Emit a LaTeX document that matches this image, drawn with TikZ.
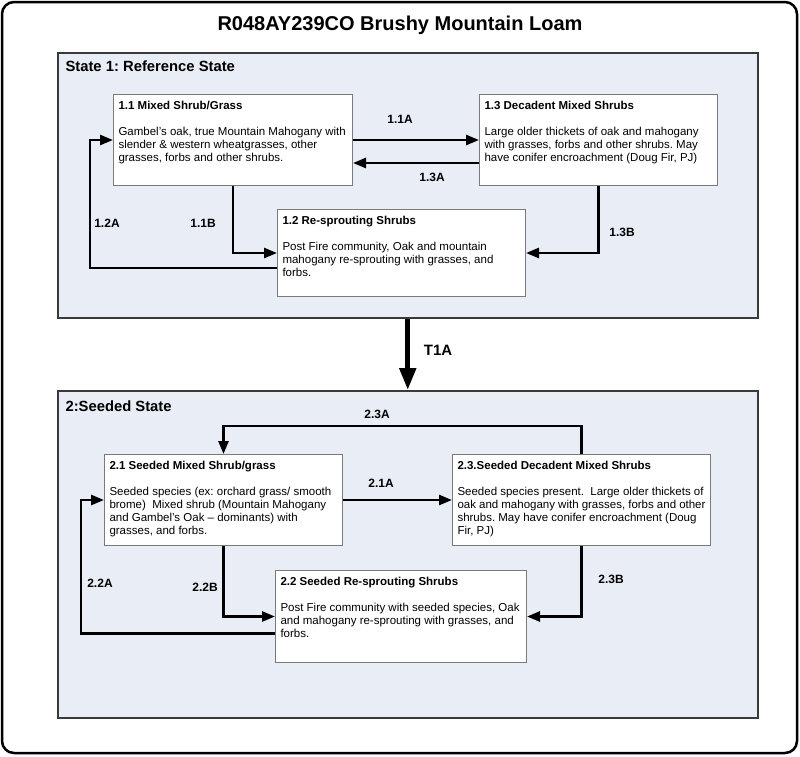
\documentclass[tikz,border=0pt]{standalone}
\usepackage{fontspec}
\setmainfont{Liberation Sans}
\usetikzlibrary{arrows.meta}
\frenchspacing

\definecolor{statefill}{HTML}{E9EDF5}
\definecolor{stateline}{HTML}{3A3A3A}
\definecolor{boxline}{HTML}{7A7A7A}

% text of a community box: width, height, title, body
\newcommand{\commtext}[4]{\parbox[c][#2][t]{#1}{\raggedright\textbf{#3}\\[13pt]#4}}

\begin{document}
\begin{tikzpicture}[
    x = 1pt, y = -1pt,
    state/.style = {
        rectangle,
        draw = stateline,
        line width = 1.5pt,
        fill = statefill,
        anchor = north west,
        inner sep = 0pt
    },
    community/.style = {
        rectangle,
        draw = boxline,
        line width = 1pt,
        fill = white,
        anchor = north west,
        inner xsep = 5pt,
        inner ysep = 7pt,
        font = \fontsize{11.5}{13}\selectfont
    },
    heading/.style = {anchor = base west, font = \fontsize{14.8}{17}\selectfont\bfseries},
    arrow/.style = {-{Triangle[length = 13pt, width = 10pt]}, line width = 2.6pt},
    transition/.style = {-{Triangle[length = 22pt, width = 16pt]}, line width = 5pt},
    tag/.style = {font = \fontsize{12}{14}\selectfont\bfseries}
]
\useasboundingbox (0,0) rectangle (800,756);

% Frame and title
\draw[line width = 2.5pt, rounded corners = 12pt] (2,2) rectangle (797,753);
\node[font = \fontsize{20}{24}\selectfont\bfseries] (title) at (400,25) {R048AY239CO Brushy Mountain Loam};

% State 1
\node[state, minimum width = 700pt, minimum height = 265pt] (s1) at (57,52) {};
\node[heading] (s1name) at (62,71) {State 1: Reference State};

\node[community] (b11) at (113,94) {\commtext{229pt}{77pt}{1.1 Mixed Shrub/Grass}{Gambel's oak, true Mountain Mahogany with\\slender \& western wheatgrasses, other\\grasses, forbs and other shrubs.}};
\node[community] (b13) at (479,94) {\commtext{228pt}{77pt}{1.3 Decadent Mixed Shrubs}{Large older thickets of oak and mahogany\\with grasses, forbs and other shrubs. May\\have conifer encroachment (Doug Fir, PJ)}};
\node[community] (b12) at (277,209) {\commtext{238pt}{73pt}{1.2 Re-sprouting Shrubs}{Post Fire community, Oak and mountain\\mahogany re-sprouting with grasses, and\\forbs.}};

\draw[arrow] (b11.east) -- (b13.west);
\draw[arrow] ([yshift = -23pt]b13.west) -- ([yshift = -23pt]b11.east);
\draw[arrow] (b11.south) |- (b12.west);
\draw[arrow] (b13.south) |- (b12.east);
\draw[arrow] ([yshift = -15pt]b12.west) -- ++(-187,0) |- (b11.west);

\node[tag] (t11a) at (400,119) {1.1A};
\node[tag] (t13a) at (432,177) {1.3A};
\node[tag] (t11b) at (203,223) {1.1B};
\node[tag] (t12a) at (107,223) {1.2A};
\node[tag] (t13b) at (622,232) {1.3B};

% State 2
\node[state, minimum width = 700pt, minimum height = 327pt] (s2) at (57,390) {};
\node[heading] (s2name) at (62,411) {2:Seeded State};

\node[community] (b21) at (104,454) {\commtext{228pt}{77pt}{2.1 Seeded Mixed Shrub/grass}{Seeded species (ex: orchard grass/ smooth\\brome)\ \ Mixed shrub (Mountain Mahogany\\and Gambel's Oak -- dominants) with\\grasses, and forbs.}};
\node[community] (b23) at (452,454) {\commtext{248pt}{77pt}{2.3.Seeded Decadent Mixed Shrubs}{Seeded species present.\ \ Large older thickets of\\oak and mahogany with grasses, forbs and other\\shrubs. May have conifer encroachment (Doug\\Fir, PJ)}};
\node[community] (b22) at (275,570) {\commtext{241pt}{78pt}{2.2 Seeded Re-sprouting Shrubs}{Post Fire community with seeded species, Oak\\and mahogany re-sprouting with grasses, and\\forbs.}};

\draw[arrow] (b21.east) -- (b23.west);
\draw[arrow] (b23.north) -- ++(0,-28) -| (b21.north);
\draw[arrow] (b21.south) |- (b22.west);
\draw[arrow] (b23.south) |- (b22.east);
\draw[arrow] ([yshift = -17pt]b22.west) -- ++(-194,0) |- (b21.west);

\node[tag] (t23a) at (377,414) {2.3A};
\node[tag] (t21a) at (381,483) {2.1A};
\node[tag] (t22a) at (100,583) {2.2A};
\node[tag] (t22b) at (205,587) {2.2B};
\node[tag] (t23b) at (611,579) {2.3B};

% Transition between states
\draw[transition] (s1.south) -- (s2.north);
\node[tag, font = \fontsize{15}{18}\selectfont\bfseries] (t1a) at (438,350) {T1A};

\end{tikzpicture}
\end{document}
